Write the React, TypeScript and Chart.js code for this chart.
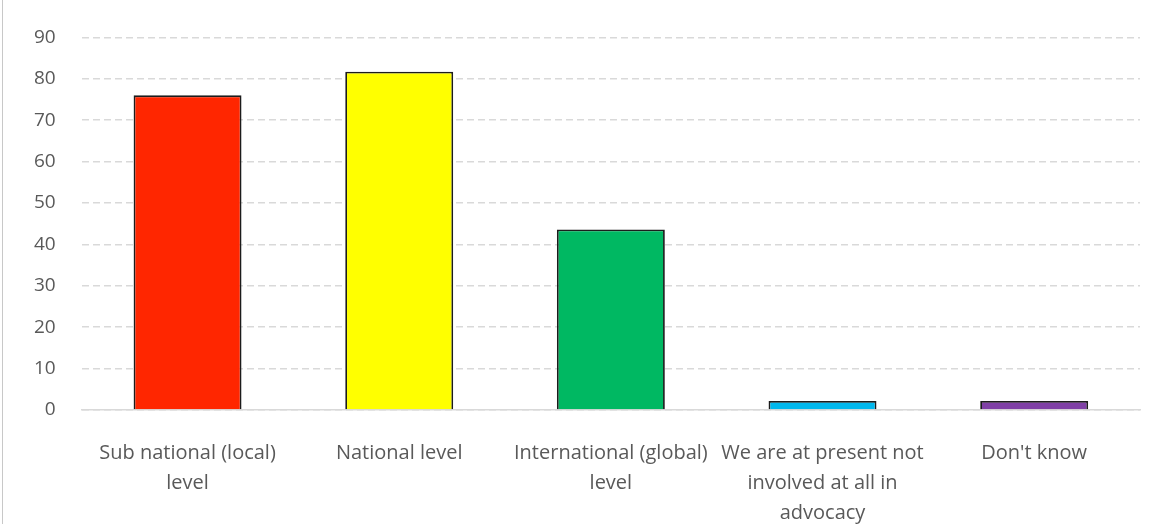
import React, { useEffect, useRef } from "react";
import { Chart, registerables } from "chart.js";

Chart.register(...registerables);

const categories: string[][] = [
  ["Sub national (local)", "level"],
  ["National level"],
  ["International (global)", "level"],
  ["We are at present not", "involved at all in", "advocacy"],
  ["Don't know"],
];
const values: number[] = [76, 81.7, 43.6, 2.2, 2.2];
const barColors: string[] = ["#FF2600", "#FFFF00", "#00B862", "#00B8EE", "#8040A6"];
const yMax = 90;
const yStep = 10;

export default function App() {
  const ref = useRef<HTMLCanvasElement | null>(null);
  useEffect(() => {
    if (!ref.current) return;
    const chart = new Chart(ref.current, {
      type: "bar",
      data: {
        labels: categories,
        datasets: [
          {
            data: values,
            backgroundColor: barColors,
            borderColor: "#1c1c1c",
            borderWidth: 1.8,
            barPercentage: 0.51,
            categoryPercentage: 1,
          },
        ],
      },
      options: {
        animation: false,
        responsive: false,
        maintainAspectRatio: false,
        layout: { padding: { left: 8, right: 13, top: 24, bottom: 0 } },
        plugins: { legend: { display: false }, tooltip: { enabled: false } },
        scales: {
          x: {
            grid: { display: false, drawTicks: false },
            border: { display: true, color: "#d9d9d9", width: 1.5 },
            ticks: {
              color: "#595959",
              font: { family: "'Open Sans', sans-serif", size: 20, lineHeight: "30px" },
              padding: 28,
              maxRotation: 0,
              autoSkip: false,
            },
            afterFit: (s: any) => {
              s.height = 114;
            },
          },
          y: {
            min: 0,
            max: yMax,
            grid: { color: "#d9d9d9", lineWidth: 1.5, drawTicks: false },
            border: { display: false, dash: [7, 4] },
            ticks: {
              stepSize: yStep,
              color: "#595959",
              font: { family: "'Open Sans', sans-serif", size: 19 },
              padding: 26,
            },
          },
        },
      },
    });
    return () => chart.destroy();
  }, []);
  return (
    <div
      style={{
        position: "fixed",
        left: 0,
        top: 0,
        width: 1153,
        height: 524,
        background: "#fff",
      }}
    >
      <div
        style={{
          position: "absolute",
          left: 2,
          top: 0,
          width: 0,
          height: 524,
          borderLeft: "1px solid #c8c8c8",
        }}
      />
      <canvas ref={ref} width={1153} height={524} style={{ display: "block" }} />
    </div>
  );
}
